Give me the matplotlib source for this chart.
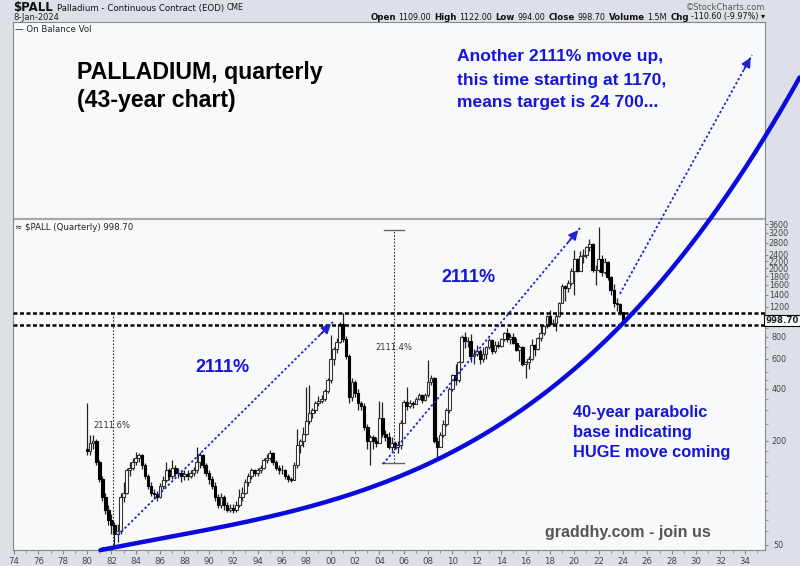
import matplotlib
matplotlib.use('Agg')
import matplotlib.pyplot as plt
import numpy as np
from matplotlib.ticker import FixedLocator, NullFormatter

# quarterly candles, 1980 Q1 .. 2024 Q1 (open = previous close)
start_year = 1980
first_open = 180
close = [175, 195, 200, 150,  120, 95, 80, 70,  65, 58, 60, 95,  100, 135, 140, 150,
         160, 165, 145, 125,  110, 100, 98, 95,  110, 118, 135, 125,  140, 130, 130, 125,
         128, 125, 130, 135,  150, 165, 145, 130,  120, 110, 95, 85,  95, 85, 80, 82,
         80, 85, 95, 100,  115, 125, 135, 130,  135, 140, 155, 160,  170, 150, 140, 135,
         135, 125, 120, 118,  145, 190, 200, 220,  260, 290, 300, 330,  340, 350, 390, 450,
         600, 680, 750, 950,  780, 620, 360, 440,  380, 330, 320, 240,  200, 210, 200, 195,
         270, 220, 210, 185,  195, 185, 190, 255,  335, 320, 330, 325,  350, 370, 345, 370,
         440, 460, 200, 185,  215, 250, 300, 400,  480, 450, 570, 800,  760, 760, 620, 640,
         660, 600, 640, 700,  770, 660, 720, 710,  780, 840, 780, 800,  740, 670, 700, 560,
         570, 600, 720, 680,  790, 840, 930, 1060,  950, 960, 1060, 1260,  1580, 1540, 1650, 1920,
         2250, 1920, 2350, 2400,  2650, 2750, 1950, 1950,  2260, 1890, 2170, 1790,  1490, 1250, 1240, 1109,
         998.7]
high = [330, 215, 215, 205,  155, 125, 100, 85,  75, 68, 66, 100,  115, 140, 150, 160,
        172, 170, 168, 148,  128, 115, 105, 102,  114, 125, 150, 140,  155, 145, 140, 135,
        135, 135, 135, 142,  185, 172, 168, 148,  135, 125, 115, 98,  100, 97, 88, 86,
        86, 90, 105, 108,  120, 130, 140, 138,  140, 145, 160, 168,  177, 172, 156, 145,
        145, 138, 128, 124,  150, 235, 205, 240,  410, 420, 310, 340,  365, 370, 400, 460,
        820, 700, 790, 970,  1100, 810, 640, 460,  450, 400, 340, 330,  250, 215, 215, 210,
        340, 335, 230, 225,  210, 200, 200, 265,  345, 410, 345, 340,  360, 380, 375, 380,
        590, 480, 470, 210,  225, 265, 310, 410,  490, 560, 580, 820,  860, 800, 830, 680,
        720, 680, 700, 710,  790, 780, 760, 760,  790, 850, 900, 830,  840, 790, 715, 710,
        580, 620, 780, 730,  800, 930, 940, 1070,  1140, 1010, 1090, 1270,  1620, 1600, 1720, 2000,
        2550, 2300, 2500, 2600,  2700, 2970, 2800, 2100,  3450, 2400, 2300, 2200,  1800, 1620, 1350, 1250,
        1122]
low = [165, 165, 180, 145,  115, 90, 75, 65,  58, 50, 52, 58,  88, 98, 125, 135,
       145, 150, 138, 120,  105, 96, 92, 90,  93, 105, 115, 118,  120, 125, 122, 115,
       118, 118, 122, 125,  130, 140, 140, 125,  112, 105, 90, 82,  82, 80, 77, 78,
       76, 78, 83, 90,  98, 110, 120, 125,  125, 130, 137, 148,  155, 145, 135, 128,
       128, 120, 115, 115,  118, 140, 170, 185,  215, 250, 270, 290,  320, 330, 340, 380,
       430, 550, 650, 740,  750, 600, 330, 340,  360, 300, 300, 230,  180, 145, 180, 185,
       195, 210, 200, 180,  175, 180, 170, 180,  255, 300, 310, 312,  325, 345, 330, 340,
       360, 420, 195, 160,  185, 210, 245, 290,  390, 420, 440, 570,  690, 700, 570, 560,
       620, 560, 570, 600,  680, 640, 650, 690,  700, 760, 750, 730,  730, 660, 580, 540,
       460, 520, 590, 620,  670, 760, 820, 900,  940, 930, 870, 1050,  1250, 1300, 1450, 1600,
       1400, 1900, 2000, 2150,  2300, 2500, 1900, 1600,  1900, 1800, 1850, 1700,  1400, 1200, 1130, 1070,
       994]

# annotation lines (year, price)
curve_years = [1981.1, 1986.0, 1991.5, 1996.9, 2002.4, 2006.3, 2016.1, 2023.8, 2025.4, 2031.7, 2038.5]
curve_prices = [48, 51, 67, 80, 97, 131, 332, 940, 1225, 4070, 26300]
arrows = [((1982.54, 57), (2000.19, 977)),
          ((2004.30, 147), (2020.47, 3418)),
          ((2023.75, 1421), (2034.59, 34300))]
resistance = [1100, 940]
last_price = 998.70

price_ticks = [50, 200, 400, 600, 800, 1200, 1400, 1600, 1800, 2000, 2200, 2400, 2800, 3200, 3600]

W, H = 800, 566
fig = plt.figure(figsize=(8, 5.66), dpi=100)
fig.patch.set_facecolor('#dde1e7')


def fx(x):
    return x / W


def fy(y):
    return 1 - y / H


ax = fig.add_axes([fx(13), fy(550), 752 / W, 528 / H])
ax.set_facecolor('#f8f9fb')
ax.set_yscale('log')
ax.set_xlim(1973.92, 2035.66)
ax.set_ylim(46.7, 53300)

# candles
n = len(close)
xs = start_year + np.arange(n) * 0.25
opens = [first_open] + close[:-1]
ax.vlines(xs, low, high, color='#222222', lw=0.9, zorder=3)
for x, o, c in zip(xs, opens, close):
    lo, hi = min(o, c), max(o, c)
    if c >= o:
        ax.bar(x, hi - lo, bottom=lo, width=0.22, facecolor='white', edgecolor='#333333', lw=0.8, zorder=4)
    else:
        ax.bar(x, hi - lo, bottom=lo, width=0.22, facecolor='black', edgecolor='black', lw=0.8, zorder=4)

# panel separator (On Balance Vol panel above)
ax.axhline(3856, color='#a8a8a8', lw=1.6, zorder=2)

# horizontal dashed levels
for lv in resistance:
    ax.axhline(lv, color='black', lw=1.8, linestyle=(0, (1.6, 1.0)), zorder=5)

# vertical measuring lines
ax.plot([1982.13, 1982.13], [48, 1100], color='#333333', lw=0.8, linestyle=(0, (1.5, 1.5)), zorder=5)
ax.plot([1981.2, 1982.9], [48.5, 48.5], color='#555555', lw=0.8, zorder=5)
ax.plot([2005.2, 2005.2], [149, 3330], color='#333333', lw=0.8, linestyle=(0, (1.5, 1.5)), zorder=5)
ax.plot([2004.4, 2006.0], [3330, 3330], color='#666666', lw=1.0, zorder=5)
ax.plot([2004.2, 2006.0], [149, 149], color='#666666', lw=1.0, zorder=5)

# parabolic curve
coef = np.polyfit(curve_years, np.log10(curve_prices), 3)
cx = np.linspace(curve_years[0], curve_years[-1], 300)
ax.plot(cx, 10 ** np.polyval(coef, cx), color='#0a0adc', lw=3.2, zorder=6, clip_on=False,
        solid_capstyle='round')

# dotted arrows
for (x0, y0), (x1, y1) in arrows:
    ax.plot([x0, x1], [y0, y1], color='#2222cc', lw=1.3, linestyle=(0, (1.3, 1.3)), zorder=6)
    ax.annotate('', xy=(x1, y1), xytext=(x0 + (x1 - x0) * 0.93, 10 ** (np.log10(y0) + (np.log10(y1) - np.log10(y0)) * 0.93)),
                arrowprops=dict(arrowstyle='-|>', color='#2222cc', lw=1.2, mutation_scale=14), zorder=7)

# axes styling
for s in ['top', 'right', 'left', 'bottom']:
    ax.spines[s].set_color('#888888')
    ax.spines[s].set_linewidth(0.8)
ax.yaxis.tick_right()
ax.yaxis.set_major_locator(FixedLocator(price_ticks))
ax.set_yticklabels([str(v) for v in price_ticks])
ax.yaxis.set_minor_locator(FixedLocator([60, 70, 80, 90, 100, 125, 150, 175, 250, 300, 350, 450, 500, 700, 900, 1000]))
ax.yaxis.set_minor_formatter(NullFormatter())
ax.tick_params(axis='y', which='major', length=2, pad=8, labelsize=5.8, labelcolor='#444444', color='#888888')
ax.tick_params(axis='y', which='minor', length=2, color='#888888')
for lab in ax.get_yticklabels():
    lab.set_horizontalalignment('center')
xt = list(range(1974, 2035, 2))
ax.set_xticks(xt)
ax.set_xticklabels(['%02d' % (v % 100) for v in xt])
ax.set_xticks(range(1974, 2036), minor=True)
ax.tick_params(axis='x', which='major', length=3, pad=2, labelsize=6.2, labelcolor='#444444', color='#888888')
ax.tick_params(axis='x', which='minor', length=2, color='#888888')

# last price box
ax.text(1.0225, last_price, '998.70', transform=ax.get_yaxis_transform(), ha='center', va='center',
        fontsize=6.2, fontweight='bold', color='#222222',
        bbox=dict(boxstyle='square,pad=0.15', facecolor='white', edgecolor='black', lw=0.8), clip_on=False)

# small labels inside the chart
fig.text(fx(93), fy(425), '2111.6%', fontsize=6, color='#333333', va='center')
fig.text(fx(375), fy(347), '2111.4%', fontsize=6, color='#333333', va='center')
fig.text(fx(15), fy(29), '\u2014 On Balance Vol', fontsize=6.2, color='#222222', va='center')
fig.text(fx(15), fy(227), '\u2248 $PALL (Quarterly) 998.70', fontsize=6.2, color='#222222', va='center')

# header (pieces laid out one after another)
renderer = fig.canvas.get_renderer()


def text_row(x, y, pieces, align_right=False):
    items = []
    for t, size, bold, gap in pieces:
        tx = fig.text(fx(x), fy(y), t, fontsize=size, fontweight='bold' if bold else 'normal',
                      color='#111111', va='center')
        items.append((tx, gap))
    widths = [tx.get_window_extent(renderer).width for tx, _ in items]
    total = sum(widths) + sum(g for _, g in items[:-1])
    cur = x - total if align_right else x
    for (tx, gap), w in zip(items, widths):
        tx.set_x(fx(cur))
        cur += w + gap


text_row(13, 8, [('$PALL', 8.5, True, 4), ('Palladium - Continuous Contract (EOD)', 6.2, False, 3),
                 ('CME', 5.6, False, 0)])
fig.text(fx(13), fy(18), '8-Jan-2024', fontsize=6.0, color='#222222', va='center')
fig.text(fx(765), fy(7), '\u00a9StockCharts.com', fontsize=6.0, color='#555555', va='center', ha='right')
text_row(765, 17, [('Open', 6.2, True, 2), ('1109.00', 5.8, False, 4), ('High', 6.2, True, 2),
                   ('1122.00', 5.8, False, 4), ('Low', 6.2, True, 2), ('994.00', 5.8, False, 4),
                   ('Close', 6.2, True, 2), ('998.70', 5.8, False, 4), ('Volume', 6.2, True, 2),
                   ('1.5M', 5.8, False, 4), ('Chg', 6.2, True, 2), ('-110.60 (-9.97%) \u25be', 5.8, False, 0)],
         align_right=True)

# commentary
fig.text(fx(77), fy(72), 'PALLADIUM, quarterly', fontsize=16.7, fontweight='bold', family='Liberation Sans', va='center')
fig.text(fx(77), fy(100), '(43-year chart)', fontsize=16.7, fontweight='bold', family='Liberation Sans', va='center')
blue = '#1515d8'
for i, t in enumerate(['Another 2111% move up,', 'this time starting at 1170,', 'means target is 24 700...']):
    fig.text(fx(457), fy(57 + 23 * i), t, fontsize=12.6, fontweight='bold', family='Liberation Sans', color=blue, va='center')
fig.text(fx(222), fy(367), '2111%', fontsize=13, fontweight='bold', family='Liberation Sans', color=blue, va='center', ha='center')
fig.text(fx(468), fy(278), '2111%', fontsize=13, fontweight='bold', family='Liberation Sans', color=blue, va='center', ha='center')
for i, t in enumerate(['40-year parabolic', 'base indicating', 'HUGE move coming']):
    fig.text(fx(573), fy(413 + 20 * i), t, fontsize=11.8, fontweight='bold', family='Liberation Sans', color=blue, va='center')
fig.text(fx(545), fy(533), 'graddhy.com - join us', fontsize=11.5, fontweight='bold', family='Liberation Sans',
         color='#555555', va='center')

fig.savefig('out.png', dpi=100, facecolor=fig.get_facecolor())
